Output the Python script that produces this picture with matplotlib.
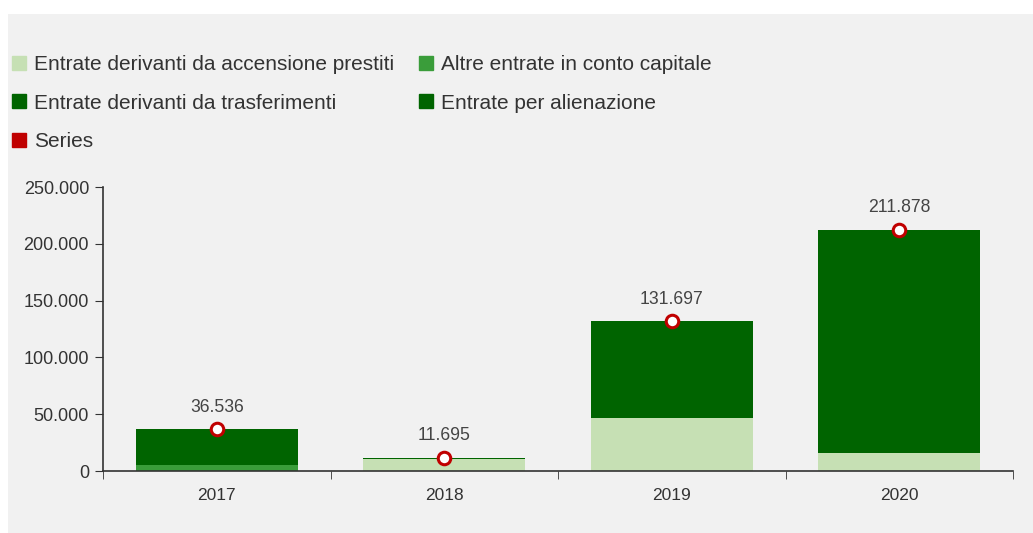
import matplotlib.pyplot as plt
from matplotlib.patches import Patch
from matplotlib.ticker import FuncFormatter
import numpy as np

plt.rcParams['font.family'] = ['Liberation Sans', 'DejaVu Sans']

anni = ['2017', '2018', '2019', '2020']
accensione_prestiti = [0, 10700, 47000, 15800]
altre_entrate = [5500, 0, 0, 0]
trasferimenti = [31036, 995, 84697, 196078]
alienazione = [0, 0, 0, 0]
totale = [36536, 11695, 131697, 211878]

c_prestiti = '#c6e0b4'
c_altre = '#3a9d3a'
c_trasf = '#006400'
c_alien = '#006400'
c_series = '#c00000'
bg = '#f1f1f1'

fig = plt.figure(figsize=(10.33, 5.33), dpi=100)
fig.patch.set_facecolor('white')
# grey panel behind the chart
fig.patches.append(plt.Rectangle((8 / 1033, 0), 1, 1 - 14 / 533, transform=fig.transFigure,
                                 facecolor=bg, edgecolor='none', zorder=-10))

ax = fig.add_axes([103 / 1033, 62 / 533, 910 / 1033, 284 / 533])
ax.set_facecolor('none')

x = np.arange(len(anni))
w = 0.71
bottom = np.zeros(len(anni))
for vals, col in [(accensione_prestiti, c_prestiti), (altre_entrate, c_altre),
                  (trasferimenti, c_trasf), (alienazione, c_alien)]:
    ax.bar(x, vals, w, bottom=bottom, color=col, zorder=2)
    bottom += np.array(vals)

ax.plot(x, totale, linestyle='none', marker='o', ms=9, mfc='white', mec=c_series,
        mew=2.2, zorder=4, clip_on=False)


def fmt(v, pos=None):
    return f'{int(v):,}'.replace(',', '.')


for xi, v in zip(x, totale):
    ax.annotate(fmt(v), (xi, v), xytext=(0, 10), textcoords='offset points',
                ha='center', va='bottom', fontsize=12.7, color='#444444')

ax.set_xlim(-0.5, 3.5)
ax.set_ylim(0, 250000)
ax.set_yticks(range(0, 250001, 50000))
ax.yaxis.set_major_formatter(FuncFormatter(fmt))
ax.set_xticks(x)
ax.set_xticklabels(anni)
ax.set_xticks([-0.5, 0.5, 1.5, 2.5, 3.5], minor=True)
ax.tick_params(axis='x', which='major', length=0, pad=12, labelsize=12.5, labelcolor='#333333')
ax.tick_params(axis='x', which='minor', length=6, direction='out', color='#333333')
ax.tick_params(axis='y', length=6, color='#333333', labelsize=13, labelcolor='#333333', pad=4)
for s in ['top', 'right']:
    ax.spines[s].set_visible(False)
for s in ['left', 'bottom']:
    ax.spines[s].set_color('#333333')
    ax.spines[s].set_linewidth(1.2)

# column-major order so rows read: prestiti | altre, trasferimenti | alienazione, series
handles = [Patch(color=c_prestiti), Patch(color=c_trasf), Patch(color=c_series),
           Patch(color=c_altre), Patch(color=c_alien)]
labels = ['Entrate derivanti da accensione prestiti', 'Entrate derivanti da trasferimenti',
          'Series', 'Altre entrate in conto capitale', 'Entrate per alienazione']
fig.legend(handles, labels, ncol=2, loc='upper left', bbox_to_anchor=(12 / 1033, 1 - 55 / 533),
           frameon=False, fontsize=15, labelcolor='#333333', handlelength=0.67, handleheight=0.67,
           handletextpad=0.38, columnspacing=1.2, labelspacing=0.94, borderpad=0,
           borderaxespad=0)

fig.savefig('out.png', dpi=100, facecolor='white')
